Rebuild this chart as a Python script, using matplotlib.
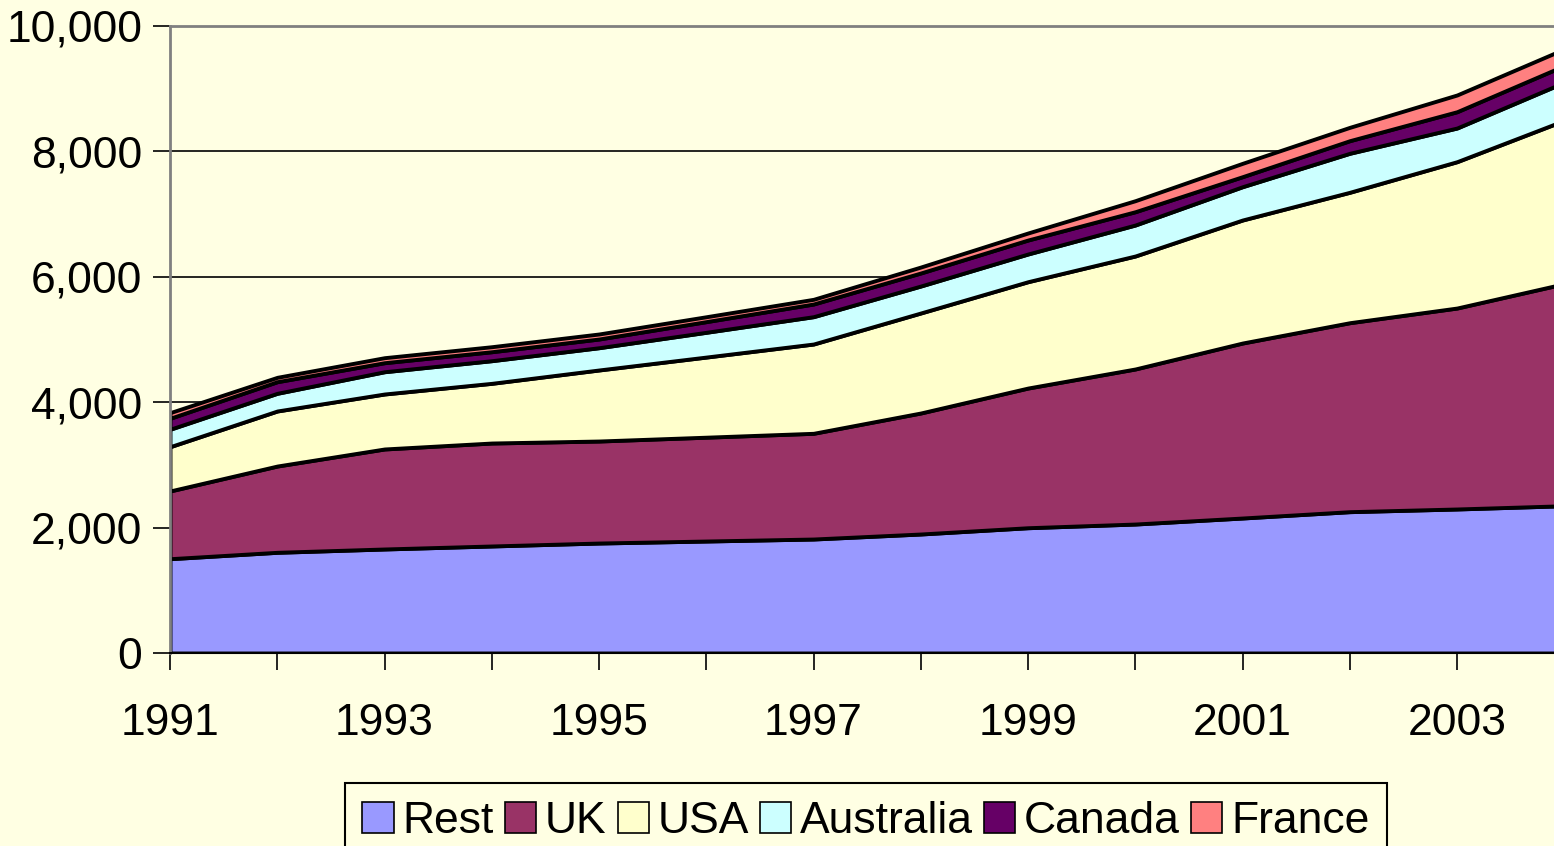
import numpy as np
import matplotlib.pyplot as plt
from matplotlib.ticker import FuncFormatter, MultipleLocator, FixedLocator

# Stacked area chart, 1991-2004

years = np.arange(1991, 2005)
rest = [1504, 1606, 1659, 1707, 1754, 1786, 1818, 1898, 1998, 2057, 2153, 2254, 2297, 2349]
uk = [1080, 1376, 1595, 1642, 1627, 1656, 1686, 1930, 2228, 2473, 2791, 3014, 3205, 3541]
usa = [706, 878, 877, 952, 1133, 1278, 1424, 1595, 1696, 1802, 1962, 2080, 2334, 2604]
australia = [278, 282, 355, 361, 355, 395, 436, 430, 442, 494, 531, 622, 537, 607]
canada = [175, 185, 144, 143, 139, 170, 202, 208, 223, 212, 160, 201, 260, 267]
france = [90, 70, 80, 80, 80, 78, 75, 95, 112, 176, 213, 213, 267, 265]
tick_years = [1991, 1993, 1995, 1997, 1999, 2001, 2003]

labels = ["Rest", "UK", "USA", "Australia", "Canada", "France"]
colors = ["#9999FF", "#993366", "#FFFFCC", "#CCFFFF", "#660066", "#FF8080"]
bg = "#FFFFE3"

plt.rcParams['font.family'] = ['Liberation Sans', 'DejaVu Sans']

fig = plt.figure(figsize=(15.54, 8.46), dpi=100, facecolor=bg)
ax = fig.add_axes([170/1554, 1 - 653/846, 1 - 170/1554, (653 - 26)/846])
ax.set_facecolor(bg)

ax.stackplot(years, rest, uk, usa, australia, canada, france,
             labels=labels, colors=colors, edgecolor="black", linewidth=2.8)

ax.set_xlim(1991, 1991 + (1554 - 170)/107.25)
ax.set_ylim(0, 10000)
ax.yaxis.set_major_locator(MultipleLocator(2000))
ax.yaxis.set_major_formatter(FuncFormatter(lambda v, p: f"{int(v):,}"))
ax.xaxis.set_major_locator(FixedLocator(tick_years))
ax.xaxis.set_minor_locator(MultipleLocator(1))
ax.grid(axis="y", color="black", linewidth=1.2)
ax.set_axisbelow(True)

ax.tick_params(axis="both", which="both", direction="out", color="black",
               width=1.2, labelsize=32)
ax.tick_params(axis="y", length=12, pad=8)
ax.tick_params(axis="x", which="both", length=12, pad=24)

for s in ["left", "top"]:
    ax.spines[s].set_color("#808080")
    ax.spines[s].set_linewidth(2)
ax.spines["right"].set_visible(False)
ax.spines["bottom"].set_color("black")
ax.spines["bottom"].set_linewidth(1.5)

leg = fig.legend(loc="upper center", bbox_to_anchor=(866/1554, 1 - 783/846),
                 ncol=6, frameon=True, fancybox=False, facecolor=bg,
                 edgecolor="black", framealpha=1, handlelength=0.7,
                 handleheight=0.7, handletextpad=0.2, columnspacing=0.25,
                 borderpad=0.4, borderaxespad=0,
                 prop={"size": 32})
leg.get_frame().set_linewidth(1.5)
for h in leg.legend_handles:
    h.set_linewidth(1.2)
    h.set_edgecolor("black")

fig.savefig("out.png", dpi=100, facecolor=bg)
